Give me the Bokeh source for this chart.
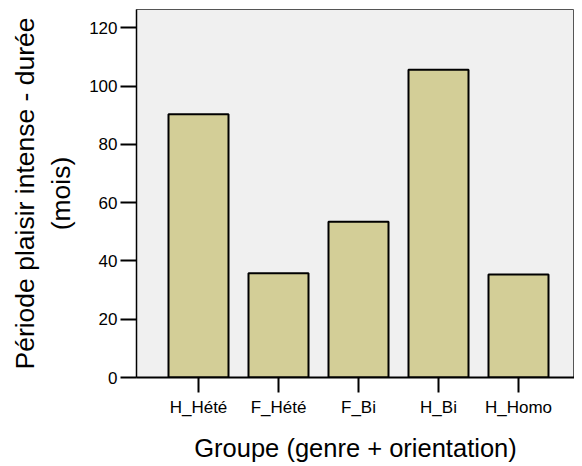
from bokeh.plotting import figure
from bokeh.models import FixedTicker, Range1d, ColumnDataSource
from bokeh.embed import file_html
from bokeh.resources import INLINE

categories = ["H_Hété", "F_Hété", "F_Bi", "H_Bi", "H_Homo"]
values = [90.3, 35.8, 53.4, 105.6, 35.3]
y_ticks = [0, 20, 40, 60, 80, 100, 120]

positions = list(range(1, len(categories) + 1))
src = ColumnDataSource(dict(x=positions, top=values))

p = figure(width=574, height=464, output_backend="svg", toolbar_location=None,
           x_range=Range1d(0.225, 5.7), y_range=Range1d(0, 126.25),
           min_border_left=136, min_border_right=0, min_border_top=9, min_border_bottom=86)

p.background_fill_color = "#F0F0F0"
p.border_fill_color = "white"
p.outline_line_color = "#555555"
p.outline_line_width = 1
p.grid.visible = False

p.vbar(x="x", top="top", width=0.75, bottom=0, source=src,
       fill_color="#D3CE97", line_color="black", line_width=2)

font = "Liberation Sans"

xa = p.xaxis[0]
xa.ticker = FixedTicker(ticks=positions)
xa.major_label_overrides = {pos: c for pos, c in zip(positions, categories)}
xa.axis_label = "Groupe (genre + orientation)"
xa.axis_label_text_font = font
xa.axis_label_text_font_size = "25.5px"
xa.axis_label_text_font_style = "normal"
xa.axis_label_text_color = "black"
xa.axis_label_standoff = 14
xa.major_label_text_font = font
xa.major_label_text_font_size = "17px"
xa.major_label_standoff = 5
xa.major_tick_out = 15
xa.major_tick_in = 0
xa.minor_tick_out = 0
xa.minor_tick_in = 0
xa.major_tick_line_width = 2
xa.axis_line_width = 2
xa.axis_line_color = "black"
xa.major_tick_line_color = "black"
xa.major_label_text_color = "black"

ya = p.yaxis[0]
ya.ticker = FixedTicker(ticks=y_ticks)
ya.axis_label = "Période plaisir intense - durée\n(mois)"
ya.axis_label_text_font = font
ya.axis_label_text_font_size = "26.5px"
ya.axis_label_text_font_style = "normal"
ya.axis_label_text_color = "black"
ya.axis_label_standoff = 10
ya.major_label_text_font = font
ya.major_label_text_font_size = "17px"
ya.major_label_standoff = 3
ya.major_tick_out = 16
ya.major_tick_in = 0
ya.minor_tick_out = 0
ya.minor_tick_in = 0
ya.major_tick_line_width = 2
ya.axis_line_width = 1.5
ya.axis_line_color = "black"
ya.major_tick_line_color = "black"
ya.major_label_text_color = "black"

open("out.html", "w").write(file_html(p, INLINE))
